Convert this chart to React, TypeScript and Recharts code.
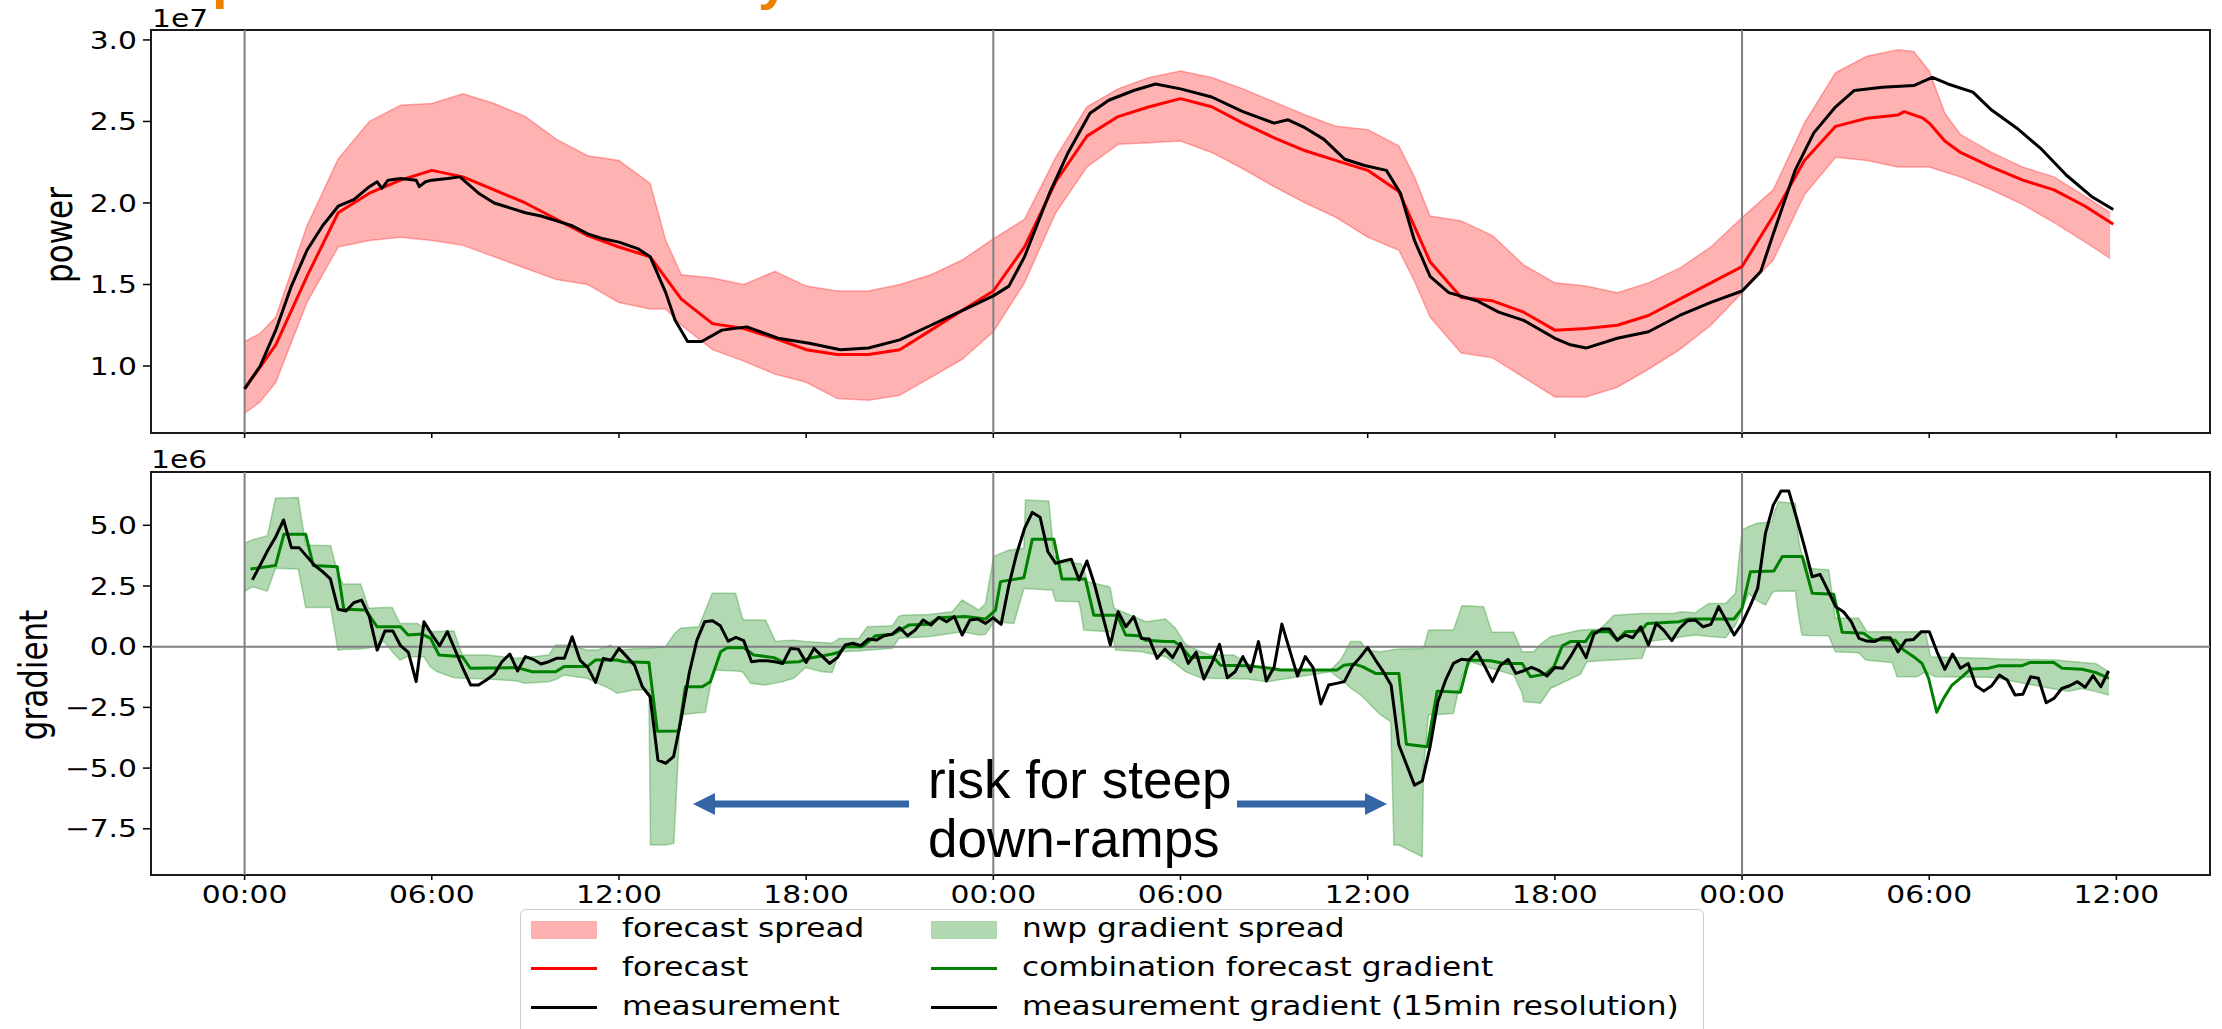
import React from 'react';
import { ComposedChart, Area, Line, XAxis, YAxis, ReferenceLine, ReferenceArea } from 'recharts';

// hours since the first midnight; power in units of 1e7, gradient in units of 1e6
const hourTicks = [0, 6, 12, 18, 24, 30, 36, 42, 48, 54, 60];
const powerTicks = [1.0, 1.5, 2.0, 2.5, 3.0];
const gradientTicks = [-7.5, -5.0, -2.5, 0, 2.5, 5.0];
const dayStarts = [0, 24, 48];

const spreadHours = [0, 0.5, 1, 2, 3, 4, 5, 6, 7, 8, 9, 10, 11, 12, 13, 13.5, 14, 15, 16, 17, 18, 19, 20, 21, 22, 23, 24, 25, 26, 27, 28, 29, 30, 31, 32, 33, 34, 35, 36, 37, 37.5, 38, 39, 40, 41, 42, 43, 44, 45, 46, 47, 48, 49, 50, 51, 52, 53, 53.5, 54, 54.5, 55, 56, 57, 58, 59, 59.8];
const spreadHigh = [1.15, 1.2, 1.3, 1.86, 2.27, 2.5, 2.6, 2.61, 2.67, 2.61, 2.53, 2.39, 2.29, 2.26, 2.12, 1.77, 1.56, 1.54, 1.5, 1.58, 1.49, 1.46, 1.46, 1.5, 1.56, 1.65, 1.78, 1.9, 2.28, 2.59, 2.7, 2.77, 2.81, 2.77, 2.7, 2.62, 2.54, 2.47, 2.45, 2.35, 2.16, 1.92, 1.89, 1.8, 1.62, 1.51, 1.49, 1.45, 1.51, 1.6, 1.73, 1.91, 2.08, 2.49, 2.8, 2.9, 2.94, 2.93, 2.81, 2.55, 2.42, 2.31, 2.22, 2.16, 2.04, 1.94];
const spreadLow = [0.71, 0.78, 0.9, 1.39, 1.73, 1.77, 1.79, 1.77, 1.74, 1.67, 1.6, 1.53, 1.5, 1.39, 1.35, 1.35, 1.25, 1.1, 1.03, 0.95, 0.9, 0.8, 0.79, 0.82, 0.93, 1.04, 1.21, 1.51, 1.94, 2.22, 2.36, 2.37, 2.38, 2.31, 2.21, 2.1, 2.0, 1.91, 1.79, 1.71, 1.52, 1.3, 1.08, 1.05, 0.93, 0.81, 0.81, 0.87, 0.98, 1.1, 1.25, 1.45, 1.65, 2.05, 2.28, 2.26, 2.22, 2.22, 2.22, 2.19, 2.16, 2.08, 1.99, 1.88, 1.76, 1.66];

const forecastHours = [0, 1, 2, 3, 4, 5, 6, 7, 8, 9, 10, 11, 12, 13, 14, 15, 16, 17, 18, 19, 20, 21, 22, 23, 24, 25, 26, 27, 28, 29, 30, 31, 32, 33, 34, 35, 36, 37, 38, 39, 40, 41, 42, 43, 44, 45, 46, 47, 48, 49, 50, 51, 52, 53, 53.2, 53.8, 54, 54.5, 55, 56, 57, 58, 59, 59.9];
const forecastValues = [0.86, 1.13, 1.55, 1.94, 2.06, 2.14, 2.2, 2.16, 2.08, 2.0, 1.9, 1.8, 1.73, 1.67, 1.41, 1.26, 1.23, 1.17, 1.1, 1.07, 1.07, 1.1, 1.22, 1.34, 1.46, 1.73, 2.13, 2.41, 2.53, 2.59, 2.64, 2.59, 2.49, 2.4, 2.32, 2.26, 2.2, 2.07, 1.64, 1.42, 1.4, 1.33, 1.22, 1.23, 1.25, 1.31, 1.41, 1.51, 1.61, 1.92, 2.26, 2.47, 2.52, 2.54, 2.56, 2.52, 2.49, 2.38, 2.31, 2.22, 2.14, 2.08, 1.98, 1.87];

const measurementHours = [0, 0.5, 1, 1.5, 2, 2.5, 3, 3.5, 4, 4.25, 4.4, 4.6, 5, 5.5, 5.6, 5.8, 6, 6.5, 6.9, 7.5, 8, 8.5, 9, 9.5, 10, 10.5, 11, 11.5, 12, 12.6, 13, 13.5, 13.8, 14.2, 14.65, 15.3, 16.1, 17.1, 18.1, 19.1, 20, 21, 22, 23, 24, 24.5, 25, 25.8, 26.4, 27.1, 27.7, 28.5, 29.2, 30, 31, 32, 33, 33.45, 34, 34.6, 35.25, 35.9, 36.6, 37.05, 37.5, 38, 38.6, 39.5, 40.2, 41, 42, 42.5, 43, 44, 45, 46, 47, 48, 48.6, 49, 49.7, 50.3, 51, 51.6, 52.5, 53.5, 54.1, 54.6, 55.4, 56, 56.8, 57.6, 58.4, 59.2, 59.9];
const measurementValues = [0.86, 1.0, 1.22, 1.49, 1.71, 1.86, 1.98, 2.02, 2.1, 2.13, 2.09, 2.14, 2.15, 2.14, 2.1, 2.13, 2.14, 2.15, 2.16, 2.06, 2.0, 1.97, 1.94, 1.92, 1.89, 1.86, 1.81, 1.78, 1.76, 1.72, 1.67, 1.45, 1.28, 1.15, 1.15, 1.22, 1.24, 1.17, 1.14, 1.1, 1.11, 1.16, 1.25, 1.34, 1.43, 1.49, 1.67, 2.06, 2.31, 2.55, 2.63, 2.69, 2.73, 2.7, 2.65, 2.56, 2.49, 2.51, 2.46, 2.39, 2.27, 2.23, 2.2, 2.06, 1.77, 1.55, 1.45, 1.4, 1.33, 1.28, 1.17, 1.13, 1.11, 1.17, 1.21, 1.31, 1.39, 1.46, 1.58, 1.81, 2.2, 2.43, 2.59, 2.69, 2.71, 2.72, 2.77, 2.73, 2.68, 2.57, 2.46, 2.33, 2.17, 2.04, 1.96];

const nwpHours = [0, 0.25, 0.73, 0.99, 1.72, 1.96, 2.76, 2.99, 3.16, 3.72, 3.98, 4.47, 4.73, 4.98, 5.21, 5.53, 5.75, 5.96, 6.18, 6.71, 6.98, 7.78, 8.74, 8.95, 9.75, 9.97, 10.24, 10.5, 10.98, 11.3, 11.73, 11.94, 12.48, 12.96, 13.01, 13.49, 13.76, 13.97, 14.56, 14.77, 14.99, 15.04, 15.74, 15.95, 16.0, 16.22, 16.7, 17.02, 17.23, 17.6, 17.98, 18.51, 18.83, 19.05, 19.1, 19.69, 19.96, 20.76, 20.97, 21.08, 21.93, 22.68, 23.0, 23.54, 23.75, 24.01, 24.07, 24.5, 24.66, 24.98, 25.03, 25.78, 25.89, 25.94, 26.0, 26.16, 26.74, 26.8, 26.9, 27.01, 27.71, 27.75, 27.87, 27.92, 28.77, 28.88, 29.52, 29.84, 30.16, 30.64, 30.96, 31.71, 32.14, 32.78, 34.81, 35.13, 35.24, 35.45, 35.77, 35.98, 36.2, 36.41, 36.74, 36.84, 37.0, 37.75, 37.79, 37.95, 38.75, 39.02, 39.3, 39.72, 39.98, 40.68, 40.95, 41.0, 41.32, 41.54, 41.86, 42.82, 43.03, 43.46, 43.89, 44.79, 45.0, 45.81, 46.02, 46.5, 46.93, 47.47, 47.79, 48.0, 48.21, 48.48, 48.75, 48.96, 49.02, 49.17, 49.71, 49.82, 49.92, 50.14, 50.78, 50.99, 51.74, 51.96, 52.01, 52.81, 52.97, 53.61, 53.88, 54.04, 54.2, 55.8, 56.12, 56.76, 58.04, 58.47, 58.9, 59.33, 59.76];
const nwpLow = [2.27, 2.47, 2.29, 3.23, 3.2, 1.61, 1.61, -0.14, -0.12, -0.1, -0.05, 0.21, -0.2, -0.55, -0.41, -0.41, -0.41, -0.85, -1.03, -1.28, -1.3, -1.33, -1.41, -1.51, -1.44, -1.35, -1.17, -1.22, -1.3, -1.5, -1.75, -1.92, -1.78, -1.78, -8.17, -8.17, -8.1, -2.81, -2.72, -2.7, -1.2, -0.96, -1.0, -1.03, -1.1, -1.51, -1.58, -1.5, -1.44, -1.3, -0.86, -1.03, -1.06, -0.3, -0.21, -0.18, -0.15, -0.07, 0.34, 0.36, 0.41, 0.55, 0.62, 0.48, 0.51, 1.0, 1.03, 0.98, 0.96, 2.4, 2.4, 2.33, 2.33, 2.1, 1.88, 1.87, 1.85, 1.5, 0.69, 0.68, 0.62, 0.62, 0.2, -0.14, -0.21, -0.25, -0.41, -0.7, -1.03, -1.28, -1.3, -1.32, -1.33, -1.44, -1.03, -1.35, -1.44, -1.7, -1.99, -2.25, -2.54, -2.8, -3.09, -8.17, -8.17, -8.65, -5.0, -2.81, -2.75, -1.2, -0.62, -0.8, -0.9, -1.17, -1.9, -2.27, -2.3, -2.33, -1.72, -1.13, -0.62, -0.58, -0.55, -0.48, 0.21, 0.35, 0.4, 0.48, 0.42, 0.37, 0.89, 1.5, 2.2, 1.9, 1.72, 2.2, 2.27, 2.28, 2.29, 1.2, 0.48, 0.46, 0.45, -0.21, -0.25, -0.55, -0.56, -0.65, -1.24, -1.24, -1.03, -1.15, -1.24, -1.26, -1.28, -1.44, -1.75, -1.83, -1.72, -1.85, -1.99];
const nwpHigh = [4.26, 4.4, 4.57, 6.11, 6.14, 4.19, 4.16, 3.0, 2.58, 2.58, 1.58, 1.61, 1.61, 0.96, 0.96, 0.96, 0.8, 0.62, 0.63, 0.65, -0.34, -0.34, -0.48, -0.45, -0.34, 0.07, 0.07, 0.07, -0.14, -0.14, 0.07, -0.14, -0.08, -0.06, -0.05, 0.0, 0.5, 0.76, 0.82, 1.5, 2.2, 2.2, 2.2, 1.2, 1.1, 1.1, 1.1, 0.21, 0.25, 0.27, 0.21, 0.17, 0.14, 0.34, 0.34, 0.34, 0.82, 0.86, 1.25, 1.3, 1.33, 1.44, 1.92, 1.51, 1.78, 3.71, 3.75, 3.98, 4.0, 4.05, 6.04, 6.0, 4.5, 3.78, 3.7, 3.5, 3.43, 3.43, 3.2, 2.68, 2.47, 2.4, 1.58, 1.55, 1.1, 1.03, 1.14, 0.76, 0.1, -0.2, -0.34, -0.34, -0.69, -0.96, -0.96, -0.55, -0.3, 0.21, 0.21, -0.14, -0.18, -0.21, -0.15, -0.12, -0.1, -0.07, -0.07, 0.69, 0.69, 1.69, 1.68, 1.65, 0.59, 0.59, -0.21, -0.21, -0.21, 0.1, 0.41, 0.69, 0.7, 0.73, 1.3, 1.37, 1.37, 1.37, 1.44, 1.4, 1.78, 1.78, 2.2, 4.8, 4.95, 5.08, 5.12, 5.15, 5.5, 5.97, 5.9, 4.33, 3.8, 3.23, 3.16, 1.17, 1.17, 0.7, 0.62, 0.62, 0.62, 0.62, 0.62, -0.41, -0.42, -0.48, -0.5, -0.52, -0.55, -0.6, -0.65, -0.69, -1.03];

const comboHours = [0.19, 0.99, 1.26, 1.96, 2.2, 2.97, 3.18, 3.88, 4.25, 5.0, 5.24, 5.69, 5.96, 6.23, 6.98, 7.24, 8.74, 9.22, 9.97, 10.24, 10.98, 11.25, 11.94, 12.16, 12.96, 13.23, 13.92, 14.13, 14.67, 14.93, 15.26, 15.47, 16.0, 16.32, 16.97, 17.29, 17.77, 18.09, 18.84, 19.05, 19.26, 19.8, 20.23, 20.76, 21.08, 21.29, 21.93, 22.25, 23.11, 23.75, 24.07, 24.23, 24.98, 25.25, 25.94, 26.2, 26.95, 27.22, 27.97, 28.24, 28.66, 28.88, 29.52, 29.79, 30.0, 30.32, 31.07, 31.28, 32.14, 32.88, 33.2, 35.02, 35.24, 35.56, 35.83, 36.25, 37.0, 37.24, 37.91, 38.23, 38.97, 39.24, 39.94, 40.37, 40.95, 41.22, 41.7, 41.97, 42.24, 42.5, 42.98, 43.2, 43.73, 44.0, 44.27, 44.75, 44.96, 45.98, 46.3, 47.74, 48.0, 48.27, 49.02, 49.29, 49.93, 50.25, 50.94, 51.21, 51.9, 52.17, 52.91, 53.18, 53.5, 53.77, 53.98, 54.24, 54.46, 54.73, 55.05, 55.32, 55.9, 56.23, 56.98, 57.24, 57.99, 58.26, 58.9, 59.33, 59.76];
const comboValues = [3.2, 3.34, 4.63, 4.63, 3.34, 3.29, 1.54, 1.51, 0.82, 0.82, 0.48, 0.52, 0.34, -0.34, -0.41, -0.89, -0.86, -1.03, -1.03, -0.82, -0.82, -0.55, -0.55, -0.62, -0.65, -3.48, -3.47, -1.65, -1.65, -1.44, -0.21, -0.04, -0.04, -0.34, -0.45, -0.65, -0.62, -0.48, -0.3, -0.23, 0.0, 0.0, 0.45, 0.51, 0.73, 0.89, 0.92, 1.19, 1.24, 1.14, 1.51, 2.68, 2.84, 4.43, 4.43, 2.79, 2.79, 1.3, 1.3, 0.48, 0.45, 0.27, 0.21, 0.21, 0.04, -0.45, -0.45, -0.76, -0.78, -0.89, -0.96, -0.96, -0.76, -0.71, -0.82, -1.1, -1.1, -4.02, -4.12, -1.83, -1.88, -0.55, -0.58, -0.69, -0.69, -1.24, -1.13, -0.82, 0.04, 0.21, 0.21, 0.62, 0.62, 0.27, 0.62, 0.65, 0.96, 1.03, 1.14, 1.14, 1.58, 3.09, 3.12, 3.71, 3.71, 2.2, 2.16, 0.59, 0.55, 0.3, 0.27, -0.14, -0.41, -0.69, -1.3, -2.7, -2.13, -1.58, -1.24, -0.92, -0.89, -0.78, -0.78, -0.65, -0.65, -0.89, -0.93, -1.06, -1.3];

// measurement gradient, one value every 15 min starting at 00:15
const gradientMeasurement = [
  2.75, 3.36, 3.98, 4.53, 5.22, 4.08, 4.08, 3.71, 3.34, 3.09, 2.79, 1.54,
  1.47, 1.81, 1.92, 1.24, -0.14, 0.65, 0.65, 0.04, -0.23, -1.44, 1.03, 0.51,
  0.04, 0.62, -0.14, -0.89, -1.58, -1.58, -1.37, -1.13, -0.62, -0.3, -1.0, -0.41,
  -0.52, -0.71, -0.62, -0.48, -0.48, 0.41, -0.55, -0.86, -1.47, -0.48, -0.56, -0.07,
  -0.41, -0.76, -1.65, -2.06, -4.67, -4.8, -4.53, -2.95, -1.1, 0.27, 1.03, 1.07,
  0.86, 0.23, 0.38, 0.25, -0.62, -0.58, -0.58, -0.62, -0.69, -0.07, -0.1, -0.65,
  -0.07, -0.38, -0.69, -0.45, 0.07, 0.14, 0.04, 0.32, 0.27, 0.45, 0.51, 0.78,
  0.45, 0.69, 1.1, 0.89, 1.21, 1.03, 1.24, 0.48, 1.1, 1.14, 0.96, 1.19,
  0.92, 2.54, 3.84, 4.87, 5.53, 5.33, 3.91, 3.43, 3.53, 3.6, 2.75, 3.53,
  2.54, 1.3, 0.07, 1.44, 0.82, 1.24, 0.34, 0.32, -0.48, -0.1, -0.45, 0.14,
  -0.69, -0.23, -1.33, -0.69, 0.1, -1.28, -1.03, -0.41, -1.03, 0.21, -1.41, -0.85,
  0.93, -0.14, -1.21, -0.41, -0.86, -2.36, -1.58, -1.51, -1.44, -0.82, -0.45, -0.04,
  -0.55, -1.03, -1.58, -4.05, -4.87, -5.7, -5.53, -4.12, -2.27, -1.37, -0.69, -0.52,
  -0.55, -0.21, -0.8, -1.44, -0.78, -0.52, -1.1, -0.99, -0.85, -0.99, -1.21, -0.86,
  -0.89, -0.41, 0.14, -0.45, 0.51, 0.73, 0.73, 0.27, 0.48, 0.37, 0.82, 0.07,
  0.96, 0.66, 0.25, 0.76, 1.07, 1.1, 0.82, 0.92, 1.65, 1.06, 0.48, 0.96,
  1.65, 2.4, 4.67, 5.83, 6.41, 6.41, 5.29, 4.12, 2.88, 2.98, 2.33, 1.65,
  1.44, 1.03, 0.34, 0.23, 0.21, 0.37, 0.37, -0.21, 0.27, 0.3, 0.62, 0.62,
  -0.21, -0.93, -0.3, -0.89, -0.69, -1.61, -1.83, -1.61, -1.17, -1.37, -1.99, -1.96,
  -1.24, -1.3, -2.31, -2.13, -1.72, -1.61, -1.44, -1.67, -1.19, -1.65, -1.0,
];

const W = 2222;
const FONT = '"DejaVu Sans", sans-serif';
const STRETCH = 1.24; // the figure was pasted into the slide stretched sideways
const X_DOMAIN: [number, number] = [-3, 63];
const POWER_DOMAIN: [number, number] = [0.589, 3.061];
const GRADIENT_DOMAIN: [number, number] = [-9.403, 7.195];

const zip = (hours: number[], values: number[]) => hours.map((h, i) => ({ h, v: values[i] }));
const zipBand = (hours: number[], lo: number[], hi: number[]) => hours.map((h, i) => ({ h, band: [lo[i], hi[i]] }));

const spreadRows = zipBand(spreadHours, spreadLow, spreadHigh);
const forecastRows = zip(forecastHours, forecastValues);
const measurementRows = zip(measurementHours, measurementValues);
const nwpRows = zipBand(nwpHours, nwpLow, nwpHigh);
const comboRows = zip(comboHours, comboValues);
const gradientRows = gradientMeasurement.map((v, i) => ({ h: (i + 1) / 4, v }));

const tickLine = { stroke: '#000', strokeWidth: 1.5 };

function XTick({ x, y, payload }: any) {
  const hh = String(payload.value % 24).padStart(2, '0');
  return (
    <g transform={`translate(${x},${y + 23}) scale(${STRETCH},1)`}>
      <text textAnchor="middle" fontFamily={FONT} fontSize={24} fill="#000">{hh}:00</text>
    </g>
  );
}

function YTick({ x, y, payload }: any) {
  const label = Number(payload.value).toFixed(1).replace('-', '\u2212');
  return (
    <g transform={`translate(${x},${y + 8.7}) scale(${STRETCH},1)`}>
      <text textAnchor="end" fontFamily={FONT} fontSize={24} fill="#000">{label}</text>
    </g>
  );
}

const NoTick = () => <g />;

function LegendBox() {
  const rows = [20, 58.5, 97.5];
  const text = (left: number, top: number, label: string) => (
    <span
      style={{
        position: 'absolute', left, top: top - 2, transform: `translateY(-50%) scaleX(1.2)`, transformOrigin: 'left center',
        fontFamily: FONT, fontSize: 26, lineHeight: '30px', whiteSpace: 'nowrap', color: '#000',
      }}
    >
      {label}
    </span>
  );
  const patch = (left: number, top: number, color: string) => (
    <div style={{ position: 'absolute', left, top: top - 9, width: 66, height: 18, boxSizing: 'border-box', background: color, border: `1px solid ${color}`, opacity: 0.3 }} />
  );
  const line = (left: number, top: number, color: string) => (
    <div style={{ position: 'absolute', left, top: top - 1.5, width: 66, height: 3, background: color }} />
  );
  return (
    <div
      style={{
        position: 'absolute', left: 520, top: 909, width: 1184, height: 140, boxSizing: 'border-box',
        border: '1.5px solid #cccccc', borderRadius: 6, background: 'rgba(255,255,255,0.85)',
      }}
    >
      {patch(10, rows[0], '#ff0000')}
      {text(101, rows[0], 'forecast spread')}
      {line(10, rows[1], '#ff0000')}
      {text(101, rows[1], 'forecast')}
      {line(10, rows[2], '#000000')}
      {text(101, rows[2], 'measurement')}
      {patch(410, rows[0], '#008000')}
      {text(501, rows[0], 'nwp gradient spread')}
      {line(410, rows[1], '#008000')}
      {text(501, rows[1], 'combination forecast gradient')}
      {line(410, rows[2], '#000000')}
      {text(501, rows[2], 'measurement gradient (15min resolution)')}
    </div>
  );
}

export default function App() {
  return (
    <div style={{ position: 'relative', width: W, height: 1029, overflow: 'hidden', background: '#fff' }}>
      <style>{'body{margin:0}'}</style>

      {/* power panel */}
      <div style={{ position: 'absolute', left: 0, top: 0 }}>
        <ComposedChart width={W} height={470} margin={{ top: 30, right: 12, bottom: 7, left: 0 }}>
          <XAxis type="number" dataKey="h" domain={X_DOMAIN} ticks={hourTicks} interval={0} allowDataOverflow height={30}
            axisLine={false} tickSize={5} tickMargin={0} tickLine={tickLine} tick={NoTick} />
          <YAxis type="number" domain={POWER_DOMAIN} ticks={powerTicks} interval={0} allowDataOverflow width={151}
            axisLine={false} tickSize={8} tickMargin={6} tickLine={tickLine} tick={<YTick />} />
          <Area data={spreadRows} dataKey="band" type="linear" fill="#ff0000" fillOpacity={0.3} stroke="#ff0000"
            strokeOpacity={0.3} strokeWidth={1.5} dot={false} activeDot={false} isAnimationActive={false} />
          {dayStarts.map((d) => (
            <ReferenceLine key={d} x={d} stroke="#808080" strokeWidth={2} />
          ))}
          <Line data={forecastRows} dataKey="v" type="linear" stroke="#ff0000" strokeWidth={3} strokeLinejoin="round"
            dot={false} activeDot={false} isAnimationActive={false} />
          <Line data={measurementRows} dataKey="v" type="linear" stroke="#000000" strokeWidth={3} strokeLinejoin="round"
            dot={false} activeDot={false} isAnimationActive={false} />
          <ReferenceArea x1={X_DOMAIN[0]} x2={X_DOMAIN[1]} y1={POWER_DOMAIN[0]} y2={POWER_DOMAIN[1]} fill="none"
            stroke="#1a1a1a" strokeWidth={2} ifOverflow="visible" />
        </ComposedChart>
      </div>

      {/* gradient panel */}
      <div style={{ position: 'absolute', left: 0, top: 440 }}>
        <ComposedChart width={W} height={480} margin={{ top: 32, right: 12, bottom: 5, left: 0 }}>
          <XAxis type="number" dataKey="h" domain={X_DOMAIN} ticks={hourTicks} interval={0} allowDataOverflow height={40}
            axisLine={false} tickSize={5} tickMargin={0} tickLine={tickLine} tick={<XTick />} />
          <YAxis type="number" domain={GRADIENT_DOMAIN} ticks={gradientTicks} interval={0} allowDataOverflow width={151}
            axisLine={false} tickSize={8} tickMargin={6} tickLine={tickLine} tick={<YTick />} />
          <Area data={nwpRows} dataKey="band" type="linear" fill="#008000" fillOpacity={0.3} stroke="#008000"
            strokeOpacity={0.3} strokeWidth={1.5} dot={false} activeDot={false} isAnimationActive={false} />
          {dayStarts.map((d) => (
            <ReferenceLine key={d} x={d} stroke="#808080" strokeWidth={2} />
          ))}
          <ReferenceLine y={0} stroke="#808080" strokeWidth={2} />
          <Line data={comboRows} dataKey="v" type="linear" stroke="#008000" strokeWidth={3} strokeLinejoin="round"
            dot={false} activeDot={false} isAnimationActive={false} />
          <Line data={gradientRows} dataKey="v" type="linear" stroke="#000000" strokeWidth={3} strokeLinejoin="round"
            dot={false} activeDot={false} isAnimationActive={false} />
          <ReferenceArea x1={X_DOMAIN[0]} x2={X_DOMAIN[1]} y1={GRADIENT_DOMAIN[0]} y2={GRADIENT_DOMAIN[1]} fill="none"
            stroke="#1a1a1a" strokeWidth={2} ifOverflow="visible" />
        </ComposedChart>
      </div>

      {/* axis labels, offset text, slide annotation */}
      <svg width={W} height={1029} style={{ position: 'absolute', left: 0, top: 0, pointerEvents: 'none' }}>
        <text x={212} y={-3} fontFamily='"Liberation Sans", Arial, sans-serif' fontWeight="bold" fontSize={56} fill="#ee8000">p</text>
        <text x={758} y={-2} fontFamily='"Liberation Sans", Arial, sans-serif' fontWeight="bold" fontSize={56} fill="#ee8000">y</text>

        <g transform={`translate(152,27) scale(${STRETCH},1)`}>
          <text fontFamily={FONT} fontSize={24} fill="#000">1e7</text>
        </g>
        <g transform={`translate(151,468) scale(${STRETCH},1)`}>
          <text fontFamily={FONT} fontSize={24} fill="#000">1e6</text>
        </g>
        <g transform={`translate(72,235) rotate(-90) scale(1,${STRETCH})`}>
          <text textAnchor="middle" fontFamily={FONT} fontSize={31} fill="#000">power</text>
        </g>
        <g transform={`translate(46.5,675) rotate(-90) scale(1,${STRETCH})`}>
          <text textAnchor="middle" fontFamily={FONT} fontSize={31} fill="#000">gradient</text>
        </g>

        <polygon points="693,804 715,793 715,800.5 909,800.5 909,807.5 715,807.5 715,815" fill="#3465a4" />
        <polygon points="1387,804 1365,793 1365,800.5 1237,800.5 1237,807.5 1365,807.5 1365,815" fill="#3465a4" />
        <text x={928} y={798} fontFamily='"Liberation Sans", Arial, sans-serif' fontSize={53} fill="#000">risk for steep</text>
        <text x={928} y={857} fontFamily='"Liberation Sans", Arial, sans-serif' fontSize={53} fill="#000">down-ramps</text>
      </svg>

      <LegendBox />
    </div>
  );
}
